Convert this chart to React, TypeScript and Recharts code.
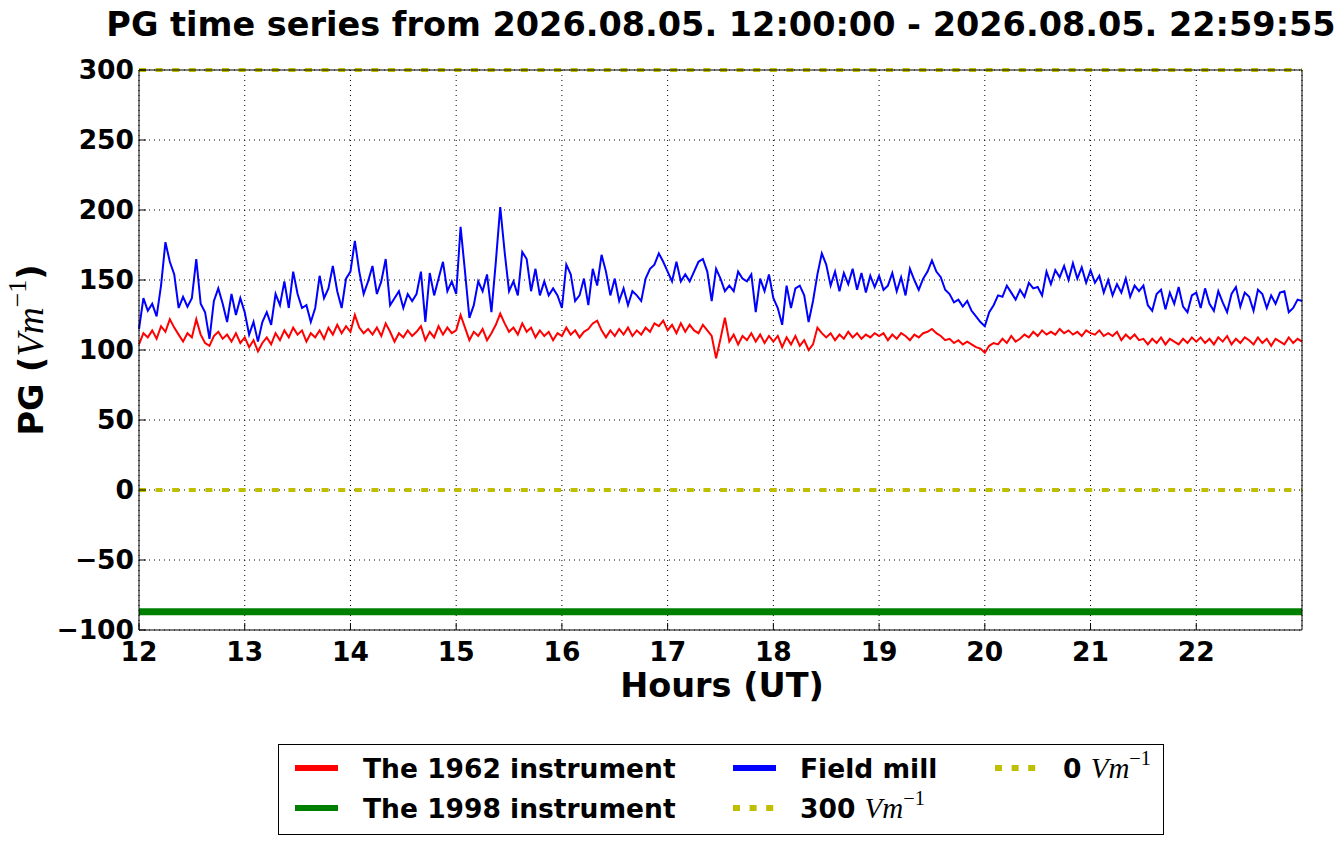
import React from 'react';
import { LineChart, Line, XAxis, YAxis, CartesianGrid, ReferenceLine } from 'recharts';

// sampling of the two noisy records: every 2.5 minutes from 12:00 UT
const START_HOUR = 12;
const STEP_MIN = 2.5;

const instrument1962 = [
  104, 112, 109, 114, 108, 117, 113, 122, 116, 111, 106, 112,
  109, 122, 111, 105, 103, 110, 113, 108, 111, 106, 112, 105,
  109, 102, 107, 99, 105, 109, 104, 112, 107, 114, 109, 116,
  111, 114, 106, 112, 109, 114, 108, 116, 111, 118, 112, 117,
  113, 125, 116, 112, 115, 111, 116, 110, 119, 113, 106, 112,
  109, 114, 110, 113, 117, 107, 113, 109, 117, 111, 116, 112,
  114, 125, 116, 107, 113, 110, 115, 107, 112, 118, 126, 119,
  113, 116, 111, 119, 113, 116, 109, 114, 110, 113, 107, 112,
  110, 116, 111, 114, 109, 113, 115, 119, 121, 114, 109, 114,
  110, 115, 111, 116, 110, 114, 111, 116, 113, 119, 117, 121,
  114, 118, 112, 119, 113, 118, 114, 112, 118, 114, 110, 94,
  108, 123, 106, 111, 104, 110, 107, 112, 106, 111, 105, 110,
  106, 110, 102, 109, 104, 110, 103, 107, 100, 104, 116, 112,
  109, 112, 107, 111, 108, 113, 109, 112, 108, 111, 109, 112,
  110, 112, 107, 111, 108, 112, 110, 107, 111, 109, 112, 113,
  115, 112, 110, 107, 108, 105, 107, 104, 106, 104, 102, 101,
  98, 103, 105, 104, 108, 105, 110, 106, 108, 111, 109, 113,
  110, 114, 111, 113, 111, 115, 112, 114, 111, 113, 110, 114,
  112, 111, 114, 110, 112, 110, 113, 107, 111, 108, 111, 107,
  108, 104, 108, 105, 109, 104, 108, 106, 104, 108, 105, 109,
  106, 109, 105, 108, 104, 109, 106, 110, 104, 108, 105, 109,
  107, 104, 109, 105, 108, 103, 108, 106, 104, 109, 105, 108,
  106,
];

const fieldMill = [
  115, 137, 128, 133, 124, 146, 177, 163, 154, 130, 138, 131,
  137, 165, 133, 127, 108, 135, 144, 133, 120, 140, 125, 137,
  127, 111, 120, 106, 120, 127, 118, 140, 132, 149, 130, 156,
  140, 130, 132, 120, 130, 153, 137, 144, 160, 142, 130, 151,
  156, 178, 156, 140, 149, 160, 140, 149, 165, 132, 137, 142,
  130, 140, 135, 140, 156, 120, 155, 139, 151, 163, 142, 149,
  140, 188, 156, 123, 132, 149, 142, 154, 127, 163, 202, 170,
  142, 149, 139, 170, 165, 142, 158, 139, 149, 139, 144, 139,
  130, 161, 154, 135, 139, 151, 132, 158, 146, 168, 156, 139,
  151, 135, 144, 132, 142, 139, 135, 151, 158, 161, 169, 163,
  156, 149, 163, 149, 154, 149, 156, 163, 165, 156, 135, 158,
  151, 142, 146, 142, 156, 151, 149, 154, 127, 151, 142, 154,
  137, 130, 118, 146, 130, 144, 146, 139, 120, 135, 154, 169,
  161, 146, 156, 142, 155, 147, 158, 143, 155, 141, 153, 145,
  153, 143, 146, 155, 142, 152, 139, 158, 150, 143, 151, 156,
  164, 156, 152, 143, 140, 134, 136, 131, 135, 128, 124, 120,
  117, 127, 132, 139, 138, 146, 141, 136, 143, 138, 148, 144,
  145, 139, 156, 147, 157, 152, 160, 150, 162, 151, 159, 148,
  157, 148, 153, 141, 150, 139, 147, 141, 151, 138, 146, 142,
  146, 132, 128, 140, 143, 129, 141, 133, 145, 131, 127, 139,
  141, 130, 144, 133, 128, 142, 134, 127, 140, 145, 131, 141,
  138, 128, 143, 140, 130, 139, 133, 141, 142, 127, 130, 136,
  135,
];

// the 1998 instrument sits flat over the whole window
const instrument1998Hours = [12, 23];
const instrument1998 = [-87, -87];

const levelLines = [0, 300];
const xTicks = [12, 13, 14, 15, 16, 17, 18, 19, 20, 21, 22];
const yTicks = [-100, -50, 0, 50, 100, 150, 200, 250, 300];

const rows = fieldMill.map((v, i) => ({
  h: START_HOUR + (i * STEP_MIN) / 60,
  fm: v,
  r62: instrument1962[i],
}));
const greenRows = instrument1998Hours.map((h, i) => ({ h, r98: instrument1998[i] }));

const FONT = '"DejaVu Sans", sans-serif';
const MATH = '"Liberation Serif", "DejaVu Serif", serif';
const OLIVE = '#bfbf00';
const DOTS = '7 9.6';

const tickStyle = { fontFamily: FONT, fontWeight: 'bold', fontSize: 26.5, fill: '#000' };
const fmtY = (v: number) => (v < 0 ? `\u2212${Math.abs(v)}` : `${v}`);

function Unit({ size }: { size: number }) {
  return (
    <>
      <tspan fontFamily={MATH} fontStyle="italic" fontWeight="normal" fontSize={size}>Vm</tspan>
      <tspan fontFamily={MATH} fontWeight="normal" fontSize={size * 0.7} dy={-size * 0.45}>{'\u22121'}</tspan>
    </>
  );
}

function Overlay() {
  return (
    <svg
      width={1341}
      height={844}
      style={{ position: 'absolute', left: 0, top: 0, pointerEvents: 'none' }}
    >
      <text x={721} y={36} textAnchor="middle" fontFamily={FONT} fontWeight="bold" fontSize={33.5}>
        PG time series from 2026.08.05. 12:00:00 - 2026.08.05. 22:59:55
      </text>
      <text x={722} y={697} textAnchor="middle" fontFamily={FONT} fontWeight="bold" fontSize={33.5}>
        Hours (UT)
      </text>
      <text
        x={43}
        y={350}
        textAnchor="middle"
        transform="rotate(-90 43 350)"
        fontFamily={FONT}
        fontWeight="bold"
        fontSize={33.5}
      >
        <tspan>PG (</tspan>
        <Unit size={37} />
        <tspan dy={16}>)</tspan>
      </text>

      <rect x={278.5} y={744.5} width={885} height={90} fill="#fff" stroke="#000" strokeWidth={1} />
      <line x1={295} x2={338} y1={768} y2={768} stroke="#ff0000" strokeWidth={6} />
      <line x1={295} x2={338} y1={808} y2={808} stroke="#008000" strokeWidth={6} />
      <line x1={733} x2={776} y1={768} y2={768} stroke="#0000ff" strokeWidth={6} />
      <line x1={733} x2={776} y1={808} y2={808} stroke={OLIVE} strokeWidth={6} strokeDasharray={DOTS} />
      <line x1={995} x2={1038} y1={768} y2={768} stroke={OLIVE} strokeWidth={6} strokeDasharray={DOTS} />
      <g fontFamily={FONT} fontWeight="bold" fontSize={26.5}>
        <text x={363} y={778}>The 1962 instrument</text>
        <text x={363} y={818}>The 1998 instrument</text>
        <text x={800} y={778}>Field mill</text>
        <text x={800} y={818}>
          <tspan>300 </tspan>
          <Unit size={29} />
        </text>
        <text x={1063} y={778}>
          <tspan>0 </tspan>
          <Unit size={29} />
        </text>
      </g>
    </svg>
  );
}

export default function App() {
  return (
    <div style={{ position: 'absolute', left: 0, top: 0, width: 1341, height: 844, background: '#fff' }}>
      <LineChart
        width={1341}
        height={844}
        data={rows}
        margin={{ top: 69, right: 0, bottom: 0, left: 0 }}
      >
        <CartesianGrid stroke="#000" strokeDasharray="1 4" strokeWidth={1} />
        <XAxis
          dataKey="h"
          type="number"
          domain={[12, 23]}
          ticks={xTicks}
          interval={0}
          height={214}
          tick={tickStyle}
          tickSize={-7}
          tickMargin={19}
          tickLine={{ stroke: '#000' }}
          axisLine={{ stroke: '#000' }}
        />
        <XAxis
          xAxisId="top"
          orientation="top"
          dataKey="h"
          type="number"
          domain={[12, 23]}
          ticks={xTicks}
          interval={0}
          height={1}
          tick={false}
          tickSize={-7}
          tickLine={{ stroke: '#000' }}
          axisLine={{ stroke: '#000' }}
        />
        <YAxis
          type="number"
          domain={[-100, 300]}
          ticks={yTicks}
          interval={0}
          width={139}
          tick={tickStyle}
          tickFormatter={fmtY}
          tickSize={-7}
          tickMargin={12}
          tickLine={{ stroke: '#000' }}
          axisLine={{ stroke: '#000' }}
        />
        <YAxis
          yAxisId="right"
          orientation="right"
          type="number"
          domain={[-100, 300]}
          ticks={yTicks}
          interval={0}
          width={39}
          tick={false}
          tickSize={-7}
          tickLine={{ stroke: '#000' }}
          axisLine={{ stroke: '#000' }}
        />
        <Line
          dataKey="r62"
          stroke="#ff0000"
          strokeWidth={2}
          dot={false}
          activeDot={false}
          isAnimationActive={false}
        />
        <Line
          data={greenRows}
          dataKey="r98"
          stroke="#008000"
          strokeWidth={7}
          dot={false}
          activeDot={false}
          isAnimationActive={false}
        />
        <Line
          dataKey="fm"
          stroke="#0000ff"
          strokeWidth={2}
          dot={false}
          activeDot={false}
          isAnimationActive={false}
        />
        {levelLines.map((v) => (
          <ReferenceLine key={v} y={v} stroke={OLIVE} strokeWidth={4} strokeDasharray={DOTS} />
        ))}
      </LineChart>
      <Overlay />
    </div>
  );
}
